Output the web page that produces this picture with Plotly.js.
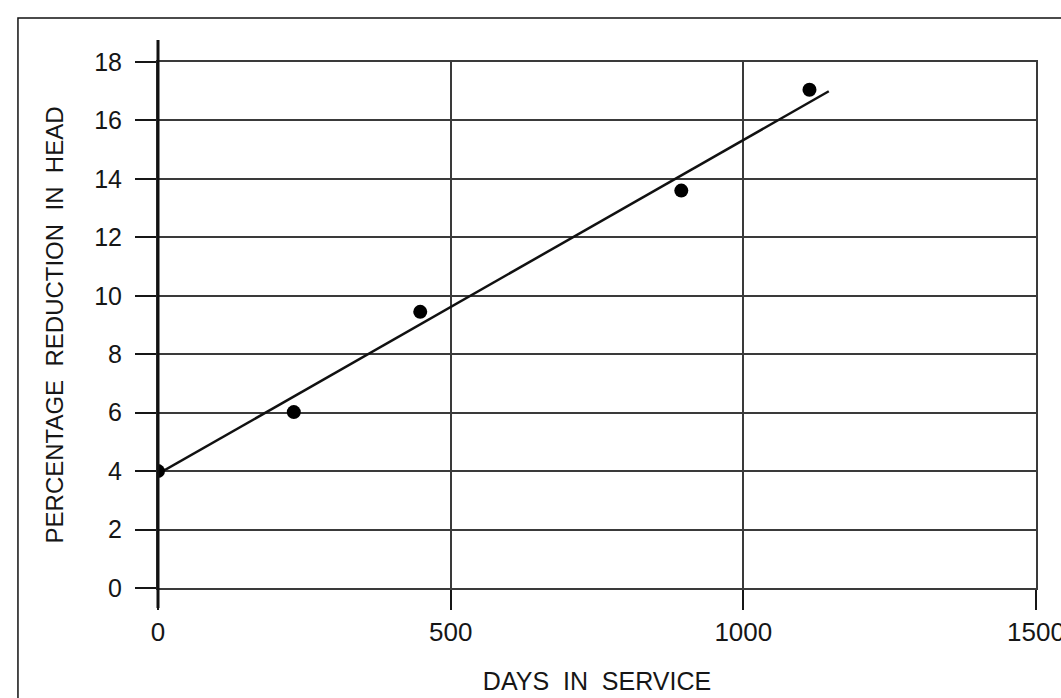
<!DOCTYPE html>
<html>
<head>
<meta charset="utf-8">
<script src="https://cdn.plot.ly/plotly-3.0.1.min.js"></script>
<style>
html, body { margin: 0; padding: 0; background: #ffffff; }
#chart { width: 1061px; height: 698px; }
.xtitle, .ytitle { white-space: pre; }
</style>
</head>
<body>
<div id="chart"></div>
<script>
// Observed data points (days in service vs. % reduction in head)
const daysInService = [0, 232, 448, 894, 1113];
const reductionInHead = [4.0, 6.02, 9.45, 13.6, 17.05];

// Hand-drawn fit line end points
const fitDays = [0, 1146];
const fitReduction = [3.9, 17.0];

// Axis ticks
const xTickVals = [0, 500, 1000, 1500];
const xTickText = ['0', '500', '1000', '1500'];
const yTickVals = [0, 2, 4, 6, 8, 10, 12, 14, 16, 18];
const yTickText = ['0', '2', '4', '6', '8', '10', '12', '14', '16', '18'];

const xTitle = 'DAYS  IN  SERVICE';
const yTitle = 'PERCENTAGE  REDUCTION  IN  HEAD';

const FONT = '"Liberation Sans", Arial, sans-serif';
const INK = '#161616';
const GRID = '#3a3a3a';

const traces = [
  {
    x: fitDays, y: fitReduction, type: 'scatter', mode: 'lines',
    line: { color: '#111111', width: 2.5 }, hoverinfo: 'skip', showlegend: false
  },
  {
    x: daysInService, y: reductionInHead, type: 'scatter', mode: 'markers',
    marker: { color: '#000000', size: 14 }, showlegend: false
  }
];

const layout = {
  width: 1061, height: 698,
  margin: { l: 158, r: 25, t: 62, b: 110 },
  paper_bgcolor: '#ffffff', plot_bgcolor: '#ffffff',
  font: { family: FONT, color: INK, size: 24 },
  showlegend: false,
  xaxis: {
    range: [0, 1500], tickmode: 'array', tickvals: xTickVals, ticktext: xTickText,
    showgrid: true, gridcolor: GRID, gridwidth: 2, zeroline: false,
    showline: true, mirror: true, linecolor: GRID, linewidth: 2,
    ticks: 'outside', ticklen: 20, tickwidth: 2, tickcolor: INK,
    tickfont: { family: FONT, size: 26, color: INK }, ticklabelstandoff: 0,
    ticklabeloverflow: 'allow',
    title: { text: xTitle, font: { family: FONT, size: 25, color: INK }, standoff: 26 },
    fixedrange: true
  },
  yaxis: {
    range: [0, 18], tickmode: 'array', tickvals: yTickVals, ticktext: yTickText,
    showgrid: true, gridcolor: GRID, gridwidth: 2, zeroline: false,
    showline: true, mirror: true, linecolor: GRID, linewidth: 2,
    ticks: 'outside', ticklen: 21, tickwidth: 2, tickcolor: INK,
    tickfont: { family: FONT, size: 25, color: INK }, ticklabelstandoff: 8,
    ticklabeloverflow: 'allow',
    title: { text: yTitle, font: { family: FONT, size: 24, color: INK }, standoff: 24 },
    fixedrange: true
  },
  shapes: [
    // outer frame of the figure
    { type: 'rect', xref: 'paper', yref: 'paper', x0: -0.1595, x1: 1.2, y0: -0.5, y1: 1.0837,
      line: { color: '#111111', width: 1.5 }, layer: 'below' },
    // heavy vertical axis along the left edge, extended above the top grid line and below the x axis
    { type: 'line', xref: 'paper', yref: 'paper', x0: 0, x1: 0, y0: -0.038, y1: 1.042,
      line: { color: '#111111', width: 3 }, layer: 'above' }
  ]
};

Plotly.newPlot('chart', traces, layout, { displayModeBar: false, staticPlot: true });
</script>
</body>
</html>
